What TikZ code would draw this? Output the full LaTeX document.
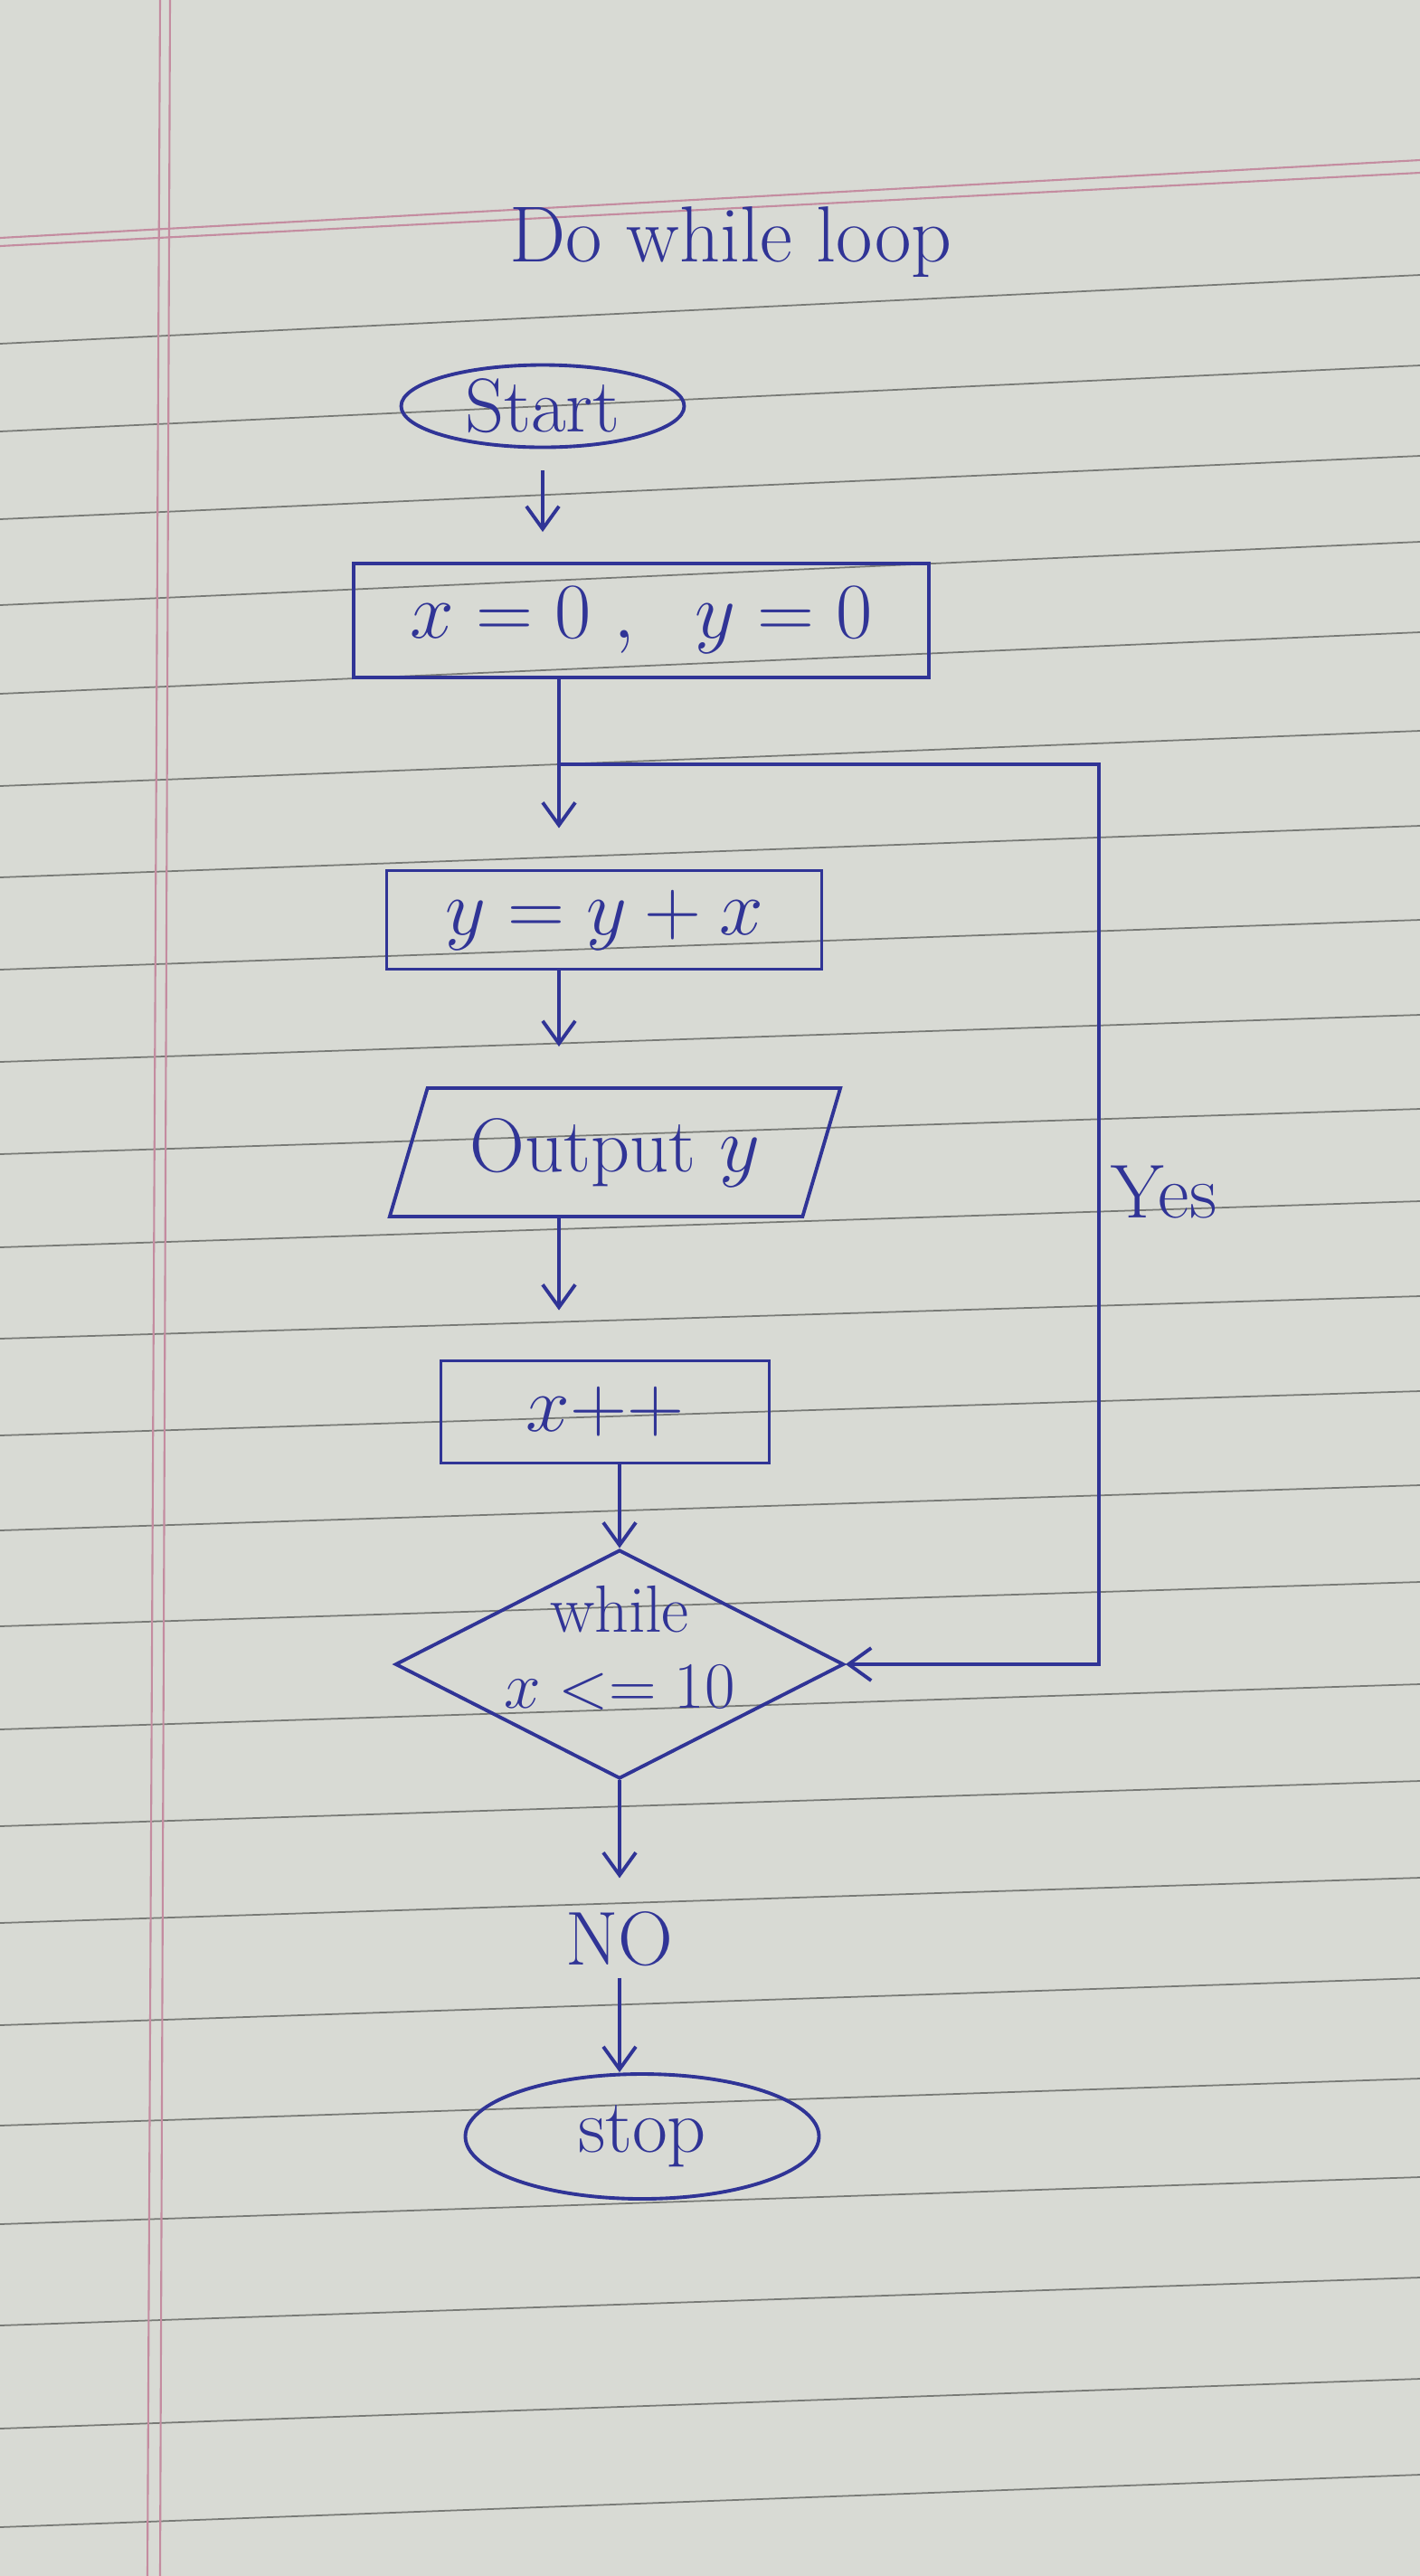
\documentclass[tikz,border=0pt]{standalone}
\usetikzlibrary{shapes.geometric,arrows.meta}
\definecolor{ink}{RGB}{48,52,150}
\definecolor{paper}{RGB}{216,218,212}
\definecolor{ruling}{RGB}{120,122,118}
\definecolor{margin}{RGB}{196,140,160}
\tikzset{my shape/.style={draw=ink, line width=1.1pt, inner sep=0pt, text=ink, font=\fontsize{24}{22}\selectfont},
my ellipse/.style={my shape, ellipse},
my box/.style={my shape, rectangle},
my io/.style={my shape, trapezium, trapezium left angle=67, trapezium right angle=113, trapezium stretches=true},
my decision/.style={my shape, diamond},
my label/.style={text=ink, font=\fontsize{24}{22}\selectfont},
my arrow/.style={draw=ink, line width=1.1pt, -{Straight Barb[length=2.5mm,width=3.6mm]}},
my rule/.style={draw=ruling, line width=0.5pt},
my margin/.style={draw=margin, line width=0.6pt},}

\begin{document}
\begin{tikzpicture}
\useasboundingbox (0,0) rectangle (15.70,-28.48);
\fill[paper] (0,0) rectangle (15.70,-28.48);
\foreach \yl/\yr in {3.80/3.04, 4.77/4.04, 5.74/5.04, 6.69/5.99, 7.67/6.99, 8.69/8.08, 9.70/9.13, 10.72/10.17, 11.74/11.22, 12.76/12.26, 13.79/13.28, 14.80/14.33, 15.87/15.38, 16.92/16.42, 17.98/17.49, 19.12/18.62, 20.19/19.69, 21.26/20.76, 22.39/21.87, 23.50/22.98, 24.59/24.07, 25.71/25.18, 26.85/26.30, 27.94/27.36}
  \draw[my rule] (0,-\yl) -- (15.70,-\yr);
\draw[my margin] (0,-2.63) -- (15.70,-1.77);
\draw[my margin] (0,-2.72) -- (15.70,-1.91);
\draw[my margin] (1.77,0) -- (1.63,-28.48);
\draw[my margin] (1.88,0) -- (1.77,-28.48);

\node [my label, font=\fontsize{25}{25}\selectfont] (title) at (8.08,-2.68) {Do while loop};
\node [my ellipse, minimum width=3.13cm, minimum height=0.91cm] (start) at (6.00,-4.49) {Start};
\node [my box, minimum width=6.36cm, minimum height=1.26cm] (init) at (7.09,-6.86) {$x=0\ ,\ \ y=0$};
\coordinate (join) at (6.18,-8.45);
\coordinate (turn) at (12.15,-8.45);
\node [my box, minimum width=4.81cm, minimum height=1.09cm] (sum) at (6.68,-10.17) {$y=y+x$};
\node [my io, minimum width=4.99cm, minimum height=1.42cm] (out) at (6.80,-12.74) {Output $y$};
\node [my box, minimum width=3.63cm, minimum height=1.13cm] (inc) at (6.69,-15.61) {$x{+}{+}$};
\node [my decision, minimum width=4.96cm, minimum height=2.53cm] (cond) at (6.85,-18.40) {};
\node [my label, align=center, font=\fontsize{21}{24}\selectfont] (condtext) at (6.85,-18.22) {while\\$x<=10$};
\node [my label] (no) at (6.85,-21.44) {NO};
\node [my ellipse, minimum width=3.91cm, minimum height=1.38cm] (stop) at (7.10,-23.62) {stop};
\node [my label] (yes) at (12.87,-13.18) {Yes};

\draw[my arrow, shorten <=0.24cm, shorten >=0.33cm] (start.south) -- (start.south |- init.north);
\draw[my arrow, shorten >=0.45cm] (join |- init.south) -- (join |- sum.north);
\draw[my arrow, shorten >=0.44cm] (join |- sum.south) -- (join |- out.north);
\draw[my arrow, shorten >=0.54cm] (join |- out.south) -- (join |- inc.north);
\draw[my arrow] (inc.south -| cond.north) -- (cond.north);
\draw[my arrow, shorten >=0.25cm] (cond.south) -- (no.north);
\draw[my arrow] (no.south) -- (no.south |- stop.north);
\draw[my arrow] (join) -- (turn) |- (cond.east);
\end{tikzpicture}
\end{document}
